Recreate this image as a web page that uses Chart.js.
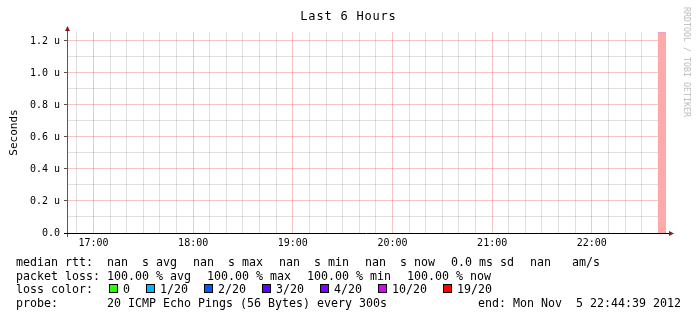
<!DOCTYPE html>
<html>
<head>
<meta charset="utf-8">
<title>Last 6 Hours</title>
<script src="https://cdn.jsdelivr.net/npm/chart.js@4"></script>
<style>
    body { margin: 0; background: #fff; }
    #wrap { position: relative; width: 697px; height: 321px; font-family: "DejaVu Sans Mono", monospace; color: #000; }
    #chart { position: absolute; left: 0; top: 0; }
    #title { position: absolute; left: 0; top: 8px; width: 697px; text-align: center; font-size: 12px; line-height: 16px; letter-spacing: 0.8px; }
    #mark { position: absolute; left: 622px; top: 57px; width: 130px; text-align: center; font-size: 8.3px; line-height: 10px; color: #bbb; transform: rotate(90deg); }
    .line { position: absolute; left: 16px; font-size: 11.63px; line-height: 14px; white-space: pre; }
    .line span + span { margin-left: 16px; }
    .box { display: inline-block; width: 9px; height: 9px; box-sizing: border-box; border: 1px solid #000; margin-right: 5px; }
    #end { position: absolute; right: 16px; top: 296px; font-size: 11.63px; line-height: 14px; white-space: pre; }
</style>
</head>
<body>
<div id="wrap">
    <canvas id="chart" width="697" height="321"></canvas>
    <div id="title">Last 6 Hours</div>
    <div id="mark">RRDTOOL / TOBI OETIKER</div>
    <div class="line" id="rtt" style="top:254.5px"></div>
    <div class="line" id="loss" style="top:268.5px"></div>
    <div class="line" id="colors" style="top:282px"></div>
    <div class="line" id="probe" style="top:296px"></div>
    <div id="end"></div>
</div>
<script>
// time range of the graph
const startTime = '16:44:39';
const endTime = '22:44:39';

// axis labels
const hourLabels = ['17:00', '18:00', '19:00', '20:00', '21:00', '22:00'];
const yGridValues = [0, 0.1, 0.2, 0.3, 0.4, 0.5, 0.6, 0.7, 0.8, 0.9, 1.0, 1.1, 1.2];
const yTickLabels = ['0.0', '', '0.2 u', '', '0.4 u', '', '0.6 u', '', '0.8 u', '', '1.0 u', '', '1.2 u'];
const yTitle = 'Seconds';
const yMax = 1.256;

// packet loss band (full height where loss was seen)
const lossTimes = ['22:39:39', '22:44:39'];
const lossValues = [1.256, 1.256];

// legend
const rttItems = ['median rtt:  nan  s avg', 'nan  s max', 'nan  s min', 'nan  s now', '0.0 ms sd', 'nan   am/s'];
const lossItems = ['packet loss: 100.00 % avg', '100.00 % max', '100.00 % min', '100.00 % now'];
const lossLabels = ['0', '1/20', '2/20', '3/20', '4/20', '10/20', '19/20'];
const lossColors = ['#26ff00', '#00b8ff', '#0059ff', '#5e00ff', '#7e00ff', '#dd00ff', '#ff0000'];
const probeText = 'probe:       20 ICMP Echo Pings (56 Bytes) every 300s';
const endText = 'end: Mon Nov  5 22:44:39 2012';

function toSec(t) {
    const p = t.split(':').map(Number);
    return p[0] * 3600 + p[1] * 60 + p[2];
}

function fillLegend() {
    const span = (txt) => '<span>' + txt + '</span>';
    document.getElementById('rtt').innerHTML = rttItems.map(span).join('');
    document.getElementById('loss').innerHTML = lossItems.map(span).join('');
    document.getElementById('colors').innerHTML = span('loss color:') +
        lossLabels.map((l, i) => '<span><i class="box" style="background:' + lossColors[i] + '"></i>' + l + '</span>').join('');
    document.getElementById('probe').textContent = probeText;
    document.getElementById('end').textContent = endText;
}

const t0 = toSec(startTime);
const t1 = toSec(endTime);
const hourTimes = hourLabels.map(h => toSec(h + ':00'));

const xGrid = [];
for (let t = Math.ceil(t0 / 600) * 600; t <= t1; t += 600) xGrid.push(t);

const majorGrid = 'rgba(230, 60, 60, 0.3)';
const minorGrid = 'rgba(0, 0, 0, 0.12)';
const tickFont = { family: 'DejaVu Sans Mono', size: 10 };

const axisArrows = {
    id: 'axisArrows',
    afterDraw(chart) {
        const { ctx, chartArea: a } = chart;
        const yx = a.left - 0.5;
        const xy = a.bottom + 0.5;
        ctx.save();
        ctx.lineWidth = 1;
        ctx.strokeStyle = '#555';
        ctx.beginPath();
        ctx.moveTo(yx, a.bottom + 4);
        ctx.lineTo(yx, a.top - 1);
        ctx.stroke();
        ctx.strokeStyle = '#000';
        ctx.beginPath();
        ctx.moveTo(a.left - 4, xy);
        ctx.lineTo(a.right + 3, xy);
        ctx.stroke();
        ctx.fillStyle = '#8b1a1a';
        ctx.beginPath();
        ctx.moveTo(yx, a.top - 6);
        ctx.lineTo(yx - 2.5, a.top - 1);
        ctx.lineTo(yx + 2.5, a.top - 1);
        ctx.closePath();
        ctx.fill();
        ctx.beginPath();
        ctx.moveTo(a.right + 8, xy);
        ctx.lineTo(a.right + 3, xy - 2.5);
        ctx.lineTo(a.right + 3, xy + 2.5);
        ctx.closePath();
        ctx.fill();
        ctx.restore();
    }
};

function renderChart() {
    const ctx = document.getElementById('chart');

    new Chart(ctx, {
        type: 'line',
        data: {
            datasets: [{
                label: 'loss',
                data: lossTimes.map((t, i) => ({ x: toSec(t), y: lossValues[i] })),
                borderColor: '#c9a0ec',
                borderWidth: 1,
                backgroundColor: '#ffaaaa',
                fill: 'origin',
                pointRadius: 0,
                tension: 0
            }]
        },
        options: {
            responsive: false,
            animation: false,
            devicePixelRatio: 1,
            layout: { padding: { top: 32, right: 31, left: 0, bottom: 0 } },
            plugins: {
                legend: { display: false },
                tooltip: { enabled: false }
            },
            scales: {
                x: {
                    type: 'linear',
                    min: t0,
                    max: t1,
                    afterBuildTicks: (s) => { s.ticks = xGrid.map(v => ({ value: v })); },
                    afterFit: (s) => { s.height = 88; },
                    border: { display: false },
                    grid: {
                        color: (c) => hourTimes.includes(c.tick.value) ? majorGrid : minorGrid,
                        drawTicks: false
                    },
                    ticks: {
                        autoSkip: false,
                        maxRotation: 0,
                        padding: 4,
                        color: '#000',
                        font: tickFont,
                        callback: (v) => {
                            const i = hourTimes.indexOf(v);
                            return i >= 0 ? hourLabels[i] : '';
                        }
                    }
                },
                y: {
                    min: 0,
                    max: yMax,
                    afterBuildTicks: (s) => { s.ticks = yGridValues.map(v => ({ value: v })); },
                    afterFit: (s) => { s.width = 68; },
                    border: { display: false },
                    title: {
                        display: true,
                        text: yTitle,
                        color: '#000',
                        font: { family: 'DejaVu Sans Mono', size: 11 },
                        padding: { top: 8, bottom: 0 }
                    },
                    grid: {
                        color: (c) => yTickLabels[c.index] ? majorGrid : minorGrid,
                        tickColor: (c) => yTickLabels[c.index] ? '#555' : 'rgba(0,0,0,0)',
                        tickLength: 4
                    },
                    ticks: {
                        autoSkip: false,
                        padding: 4,
                        color: '#000',
                        font: tickFont,
                        callback: (v, i) => yTickLabels[i]
                    }
                }
            }
        },
        plugins: [axisArrows]
    });
}

document.addEventListener('DOMContentLoaded', () => {
    fillLegend();
    renderChart();
});
</script>
</body>
</html>
